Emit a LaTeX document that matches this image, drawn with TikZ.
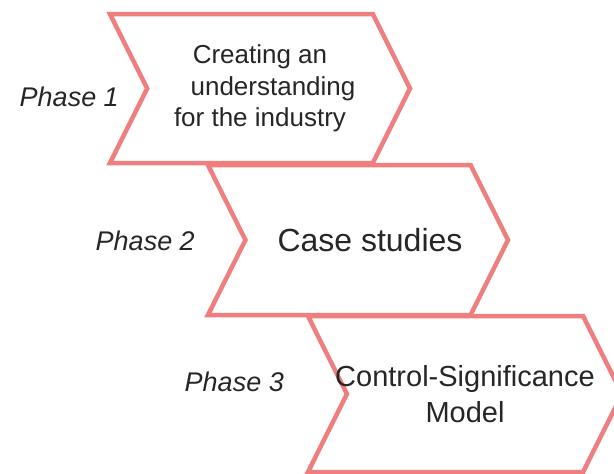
\documentclass[tikz,border=0pt]{standalone}
\usepackage{fontspec}
\setmainfont{Liberation Sans}
\usetikzlibrary{shapes.symbols}
\definecolor{chevred}{RGB}{239,126,126}
\definecolor{inktext}{RGB}{38,38,38}
\begin{document}
\begin{tikzpicture}[x=1pt,y=-1pt]

      \tikzset{phasebox/.style={shape=signal, signal from=west, signal to=east, signal pointer angle=127,
                 draw=chevred, line width=4.5pt, fill=white, inner sep=0pt, align=center, text=inktext}}
      \tikzset{phasename/.style={font=\fontsize{27}{30}\selectfont\itshape, text=inktext, inner sep=0pt, anchor=base east}}
      \useasboundingbox (0,0) rectangle (614,474);
%% Chevrons
      	\node[phasebox, minimum width=300pt, minimum height=149pt, font=\fontsize{26}{31.5}\selectfont] (c1) at (260,88.5)
      	  {Creating an\\\hspace*{1em}understanding\\for the industry};
      	\node[phasebox, minimum width=300pt, minimum height=150pt, font=\fontsize{32}{36}\selectfont] (c2) at (358,240)
      	  {\hspace*{24pt}Case studies};
      	\node[phasebox, minimum width=314pt, minimum height=156pt, font=\fontsize{29}{36}\selectfont] (c3) at (465,394)
      	  {\makebox[200pt][c]{Control-Significance}\\Model};
%% Phase names
      	\node[phasename] (n1) at (119,106) {Phase 1};
      	\node[phasename] (n2) at (195,250) {Phase 2};
      	\node[phasename] (n3) at (284,391) {Phase 3};

\end{tikzpicture}
\end{document}
